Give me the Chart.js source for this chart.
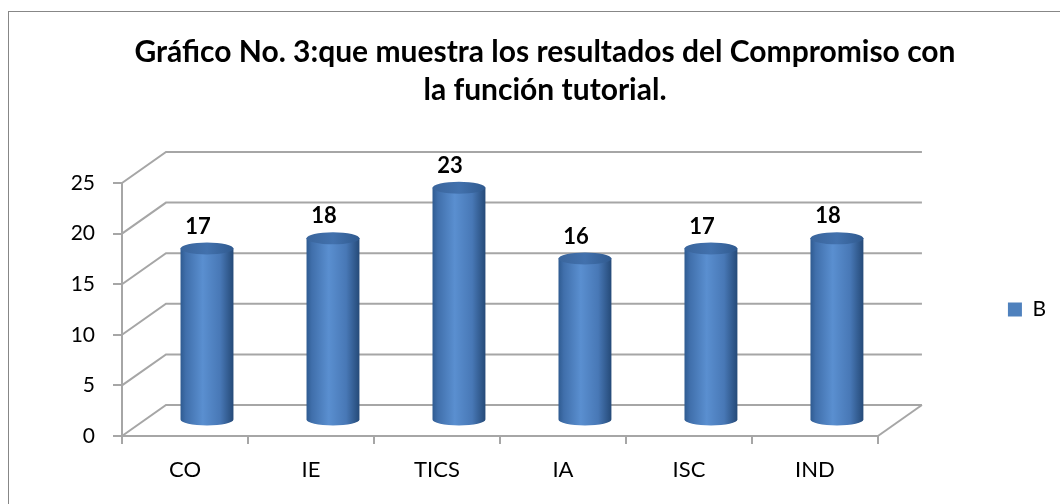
<!DOCTYPE html>
<html><head><meta charset="utf-8">
<script src="https://cdn.jsdelivr.net/npm/chart.js@4.4.0/dist/chart.umd.min.js"></script>
<style>html,body{margin:0;padding:0;background:#fff}canvas{display:block}</style>
</head><body>
<canvas id="c" width="1060" height="504"></canvas>
<script>
// ---- data ----
const categories = ['CO', 'IE', 'TICS', 'IA', 'ISC', 'IND'];
const seriesName = 'B';
const seriesB = [17, 18, 23, 16, 17, 18];
const yMin = 0, yMax = 25, yStep = 5;
const titleLines = ['Gráfico No. 3:que muestra los resultados del Compromiso con', 'la función tutorial.'];

// ---- style ----
const GRID = '#a6a6a6';
const DEPTH_X = 44, DEPTH_Y = -31;
const FONT = 'Lato';

function drawCylinder(ctx, cx, top, bottom, w) {
  const rx = w / 2, ry = 6;
  const l = cx - rx, r = cx + rx;
  const g = ctx.createLinearGradient(l, 0, r, 0);
  g.addColorStop(0, '#2f5b91');
  g.addColorStop(0.1, '#406fab');
  g.addColorStop(0.42, '#5a8fd0');
  g.addColorStop(0.75, '#4878b6');
  g.addColorStop(1, '#254a78');
  ctx.fillStyle = g;
  ctx.beginPath();
  ctx.moveTo(l, top);
  ctx.lineTo(l, bottom);
  ctx.ellipse(cx, bottom, rx, ry, 0, Math.PI, 0, true);
  ctx.lineTo(r, top);
  ctx.closePath();
  ctx.fill();
  const gt = ctx.createLinearGradient(l, 0, r, 0);
  gt.addColorStop(0, '#3a659c');
  gt.addColorStop(0.5, '#4271ad');
  gt.addColorStop(1, '#305a8f');
  ctx.fillStyle = gt;
  ctx.beginPath();
  ctx.ellipse(cx, top, rx, ry, 0, 0, Math.PI * 2);
  ctx.fill();
}

const frame3d = {
  id: 'frame3d',
  beforeDraw(chart) {
    const ctx = chart.ctx;
    ctx.save();
    ctx.fillStyle = '#fff';
    ctx.fillRect(0, 0, chart.width, chart.height);
    ctx.strokeStyle = '#878787';
    ctx.lineWidth = 1;
    ctx.strokeRect(8.5, 11.5, chart.width + 20, chart.height + 20);
    ctx.restore();
  },
  beforeDatasetsDraw(chart) {
    const {ctx, chartArea: a, scales: {x, y}} = chart;
    ctx.save();
    ctx.strokeStyle = GRID;
    ctx.lineWidth = 2;
    y.ticks.forEach(t => {
      const py = y.getPixelForValue(t.value);
      ctx.beginPath();
      ctx.moveTo(a.left, py);
      ctx.lineTo(a.left + DEPTH_X, py + DEPTH_Y);
      ctx.lineTo(a.right + DEPTH_X, py + DEPTH_Y);
      ctx.stroke();
    });
    const by = y.getPixelForValue(yMin);
    ctx.beginPath();
    ctx.moveTo(a.right, by);
    ctx.lineTo(a.right + DEPTH_X, by + DEPTH_Y);
    ctx.stroke();

    const meta = chart.getDatasetMeta(0);
    const data = chart.data.datasets[0].data;
    meta.data.forEach((el, i) => {
      const cx = el.x + DEPTH_X / 2;
      const top = el.y + DEPTH_Y / 2;
      const bottom = el.base + DEPTH_Y / 2;
      drawCylinder(ctx, cx, top, bottom, el.width);
      ctx.fillStyle = '#000';
      ctx.font = 'bold 22px ' + FONT;
      ctx.textAlign = 'center';
      ctx.textBaseline = 'middle';
      ctx.fillText(String(data[i]), cx - 9, top - 22);
    });
    ctx.restore();
    return false;
  }
};

Chart.defaults.font.family = FONT;

new Chart(document.getElementById('c'), {
  type: 'bar',
  data: {
    labels: categories,
    datasets: [{
      label: seriesName,
      data: seriesB,
      backgroundColor: '#4F81BD',
      borderWidth: 0,
      barPercentage: 0.42,
      categoryPercentage: 1
    }]
  },
  options: {
    responsive: false,
    animation: false,
    devicePixelRatio: 1,
    layout: {padding: {left: 34, right: 4, top: 0, bottom: 0}},
    plugins: {
      tooltip: {enabled: false},
      title: {
        display: true,
        text: titleLines,
        color: '#000',
        font: {size: 30, weight: 'bold', lineHeight: 38 / 30},
        padding: {top: 33, bottom: 74}
      },
      legend: {
        position: 'right',
        fullSize: false,
        labels: {boxWidth: 14, boxHeight: 14, color: '#000', font: {size: 21}, padding: 10}
      }
    },
    scales: {
      x: {
        type: 'category',
        grid: {display: true, drawOnChartArea: false, drawTicks: true, tickLength: 8, color: GRID, lineWidth: 2, offset: true},
        border: {display: true, color: GRID, width: 2},
        ticks: {color: '#000', font: {size: 22}, padding: 13},
        afterFit(s) { s.height = 68; }
      },
      y: {
        min: yMin, max: yMax,
        ticks: {stepSize: yStep, color: '#000', font: {size: 21}, padding: 18},
        grid: {drawOnChartArea: false, tickLength: 9, color: GRID, lineWidth: 2},
        border: {display: true, color: GRID, width: 2},
        afterFit(s) { s.width = 88; }
      },
      y2: {
        position: 'right',
        display: true,
        grid: {display: false},
        border: {display: false},
        ticks: {display: false},
        afterFit(s) { s.width = 120; }
      }
    }
  },
  plugins: [frame3d]
});
</script>
</body></html>
